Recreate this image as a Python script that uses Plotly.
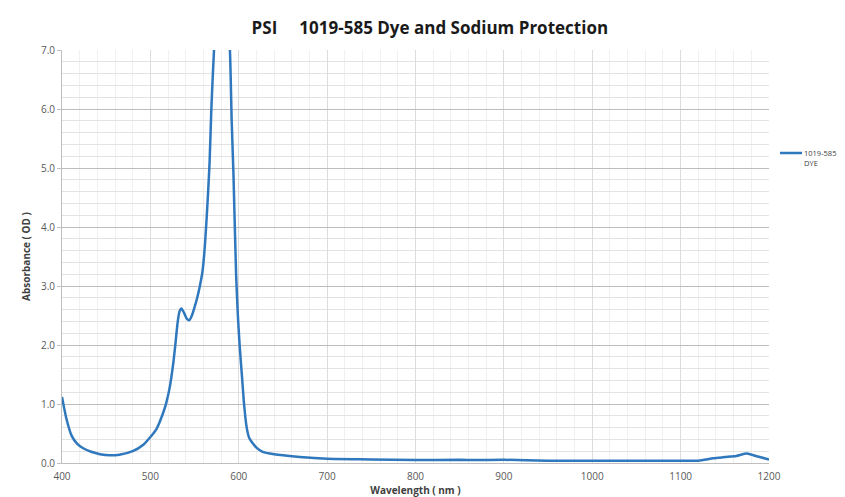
import plotly.graph_objects as go

wavelength_nm = [400, 405, 411, 417, 424, 433, 443, 454, 465, 480, 492, 500, 507, 514, 518, 522,
                 526, 528, 531, 533, 535, 538, 541, 544, 547, 550, 553, 556, 559, 562, 565, 567,
                 569, 572, 576, 581, 586, 590, 592, 594, 597, 599, 601, 604, 606, 609, 612, 620,
                 627, 635, 650, 669, 700, 750, 800, 850, 870, 900, 950, 1000, 1050, 1100, 1120,
                 1137, 1150, 1163, 1175, 1185, 1200]
absorbance_od = [1.12, 0.75, 0.46, 0.33, 0.25, 0.19, 0.15, 0.13, 0.14, 0.20, 0.31, 0.44, 0.58, 0.83, 1.02, 1.29,
                 1.70, 1.97, 2.40, 2.57, 2.62, 2.55, 2.45, 2.42, 2.50, 2.64, 2.80, 3.00, 3.25, 3.75, 4.50, 5.10,
                 6.00, 7.00, 7.90, 8.30, 7.90, 7.00, 5.80, 4.90, 3.20, 2.50, 2.00, 1.40, 1.00, 0.60, 0.42, 0.26,
                 0.19, 0.16, 0.13, 0.10, 0.07, 0.06, 0.05, 0.055, 0.05, 0.055, 0.04, 0.04, 0.04, 0.04, 0.04,
                 0.08, 0.10, 0.12, 0.16, 0.12, 0.06]

series_name = "1019-585<br>DYE"
title_text = "PSI&nbsp;&nbsp;&nbsp;&nbsp;&nbsp;1019-585 Dye and Sodium Protection"
x_ticks = [400, 500, 600, 700, 800, 900, 1000, 1100, 1200]
y_ticks = [0, 1, 2, 3, 4, 5, 6, 7]
y_tick_labels = ["0.0", "1.0", "2.0", "3.0", "4.0", "5.0", "6.0", "7.0"]

FONT = "Open Sans"
LINE_COLOR = "#2f78bd"

fig = go.Figure()
fig.add_trace(go.Scatter(
    x=wavelength_nm, y=absorbance_od, mode="lines", name=series_name, showlegend=False,
    line=dict(color=LINE_COLOR, width=2.5, shape="spline", smoothing=0.6),
))

# Legend drawn as a key line + label (placed in the right margin)
fig.add_shape(type="line", xref="paper", yref="paper", x0=1.0156, x1=1.0467, y0=0.7506, y1=0.7506,
              line=dict(color=LINE_COLOR, width=2.5))
fig.add_annotation(text=series_name, xref="paper", yref="paper", x=1.046, y=0.739,
                   xanchor="left", yanchor="middle", align="left", showarrow=False,
                   font=dict(family=FONT, size=7.5, color="#404040"))

fig.update_layout(
    width=837, height=489,
    paper_bgcolor="white", plot_bgcolor="white",
    margin=dict(l=54, r=76, t=42, b=34, autoexpand=False),
    font=dict(family=FONT, color="#595959", size=10),
    title=dict(text="<b>" + title_text + "</b>", x=0.504, xanchor="center", y=0.959, yanchor="middle",
               font=dict(family=FONT, size=17, color="#1a1a1a")),
    showlegend=False,
)

fig.update_xaxes(
    range=[400, 1200], tickvals=x_ticks, ticktext=[str(v) for v in x_ticks],
    showgrid=True, gridcolor="#dcdcdc", gridwidth=1,
    minor=dict(dtick=20, showgrid=True, gridcolor="#f0f0f0", gridwidth=1, ticks=""),
    showline=True, linecolor="#bfbfbf", linewidth=1, zeroline=False, automargin=False,
    ticks="", ticklabelstandoff=4, tickfont=dict(family=FONT, size=10, color="#595959"),
    title=dict(text="<b>Wavelength ( nm )</b>", standoff=2, font=dict(family=FONT, size=10, color="#404040")),
)
fig.update_yaxes(
    range=[0, 7], tickvals=y_ticks, ticktext=y_tick_labels,
    showgrid=True, gridcolor="#bdbdbd", gridwidth=1,
    minor=dict(dtick=0.2, showgrid=True, gridcolor="#e3e3e3", gridwidth=1, ticks=""),
    showline=True, linecolor="#bfbfbf", linewidth=1, zeroline=False, automargin=False,
    ticks="outside", ticklen=4, tickcolor="#bfbfbf",
    tickfont=dict(family=FONT, size=10, color="#595959"),
    title=dict(text="<b>Absorbance ( OD )</b>", standoff=8, font=dict(family=FONT, size=10, color="#404040")),
)

fig.write_html("out.html")
